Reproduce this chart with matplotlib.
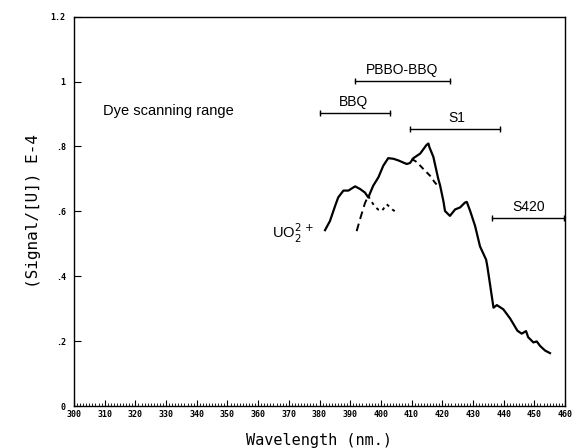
import matplotlib
matplotlib.use("Agg")
import matplotlib.pyplot as plt
from matplotlib.ticker import MultipleLocator, FixedLocator, FixedFormatter

# ---- data ----
main_wl = [381.8, 383.4, 385.1, 386.1, 387.8, 389.4, 391.6, 393.2, 394.8, 395.9,
           397.5, 399.2, 400.8, 402.4, 404.1, 405.7, 408.4, 409.5, 410.6, 412.8,
           414.9, 415.5, 415.8, 417.1, 418.7, 419.3, 420.4, 420.9, 422.5, 424.2,
           425.8, 427.4, 428.0, 429.1, 430.7, 432.3, 434.3, 434.7, 435.6, 436.7,
           437.8, 439.9, 442.1, 444.5, 445.9, 447.3, 448.0, 449.7, 450.8, 451.9,
           453.5, 455.1]
main_sig = [0.542, 0.570, 0.617, 0.643, 0.664, 0.664, 0.677, 0.669, 0.658, 0.643,
            0.679, 0.705, 0.741, 0.764, 0.762, 0.757, 0.746, 0.749, 0.764, 0.778,
            0.805, 0.809, 0.798, 0.768, 0.700, 0.680, 0.630, 0.601, 0.586, 0.606,
            0.612, 0.627, 0.629, 0.601, 0.555, 0.492, 0.451, 0.430, 0.373, 0.303,
            0.311, 0.298, 0.270, 0.232, 0.223, 0.231, 0.212, 0.196, 0.199, 0.185,
            0.171, 0.163]

bbq_rise_wl = [392.1, 393.5, 394.8, 396.0]
bbq_rise_sig = [0.539, 0.585, 0.625, 0.650]

uo2_tail_wl = [395.9, 396.8, 398.1, 399.2, 400.3, 401.9, 402.8, 403.7, 404.6]
uo2_tail_sig = [0.648, 0.632, 0.614, 0.605, 0.601, 0.622, 0.614, 0.606, 0.600]

s1_wl = [410.0, 411.7, 413.8, 416.0, 417.5, 418.7]
s1_sig = [0.762, 0.752, 0.731, 0.710, 0.690, 0.677]

range_names = ["BBQ", "PBBO-BBQ", "S1", "S420"]
range_start = [380.0, 391.6, 409.6, 436.3]
range_end = [403.0, 422.5, 438.8, 459.8]
range_level = [0.902, 1.002, 0.853, 0.580]

x_ticks = list(range(300, 461, 10))
y_ticks = [0, 0.2, 0.4, 0.6, 0.8, 1.0, 1.2]
y_tick_labels = ["0", ".2", ".4", ".6", ".8", "1", "1.2"]

# ---- figure ----
fig = plt.figure(figsize=(5.79, 4.48), dpi=100)
ax = fig.add_axes([74 / 579, 1 - 406 / 448, (565 - 74) / 579, (406 - 16.7) / 448])
ax.set_xlim(300, 460)
ax.set_ylim(0, 1.2)

ax.plot(main_wl, main_sig, color="black", lw=1.6, solid_joinstyle="round")
ax.plot(bbq_rise_wl, bbq_rise_sig, color="black", lw=1.4, dashes=(4, 2.5))
ax.plot(uo2_tail_wl, uo2_tail_sig, color="black", lw=1.4, dashes=(1.6, 2.2))
ax.plot(s1_wl, s1_sig, color="black", lw=1.4, dashes=(3, 2.2))

for name, x0, x1, yv in zip(range_names, range_start, range_end, range_level):
    ax.plot([x0, x1], [yv, yv], color="black", lw=1.0, marker="|",
            markersize=5, markeredgewidth=1.0)

label_font = dict(family=["Liberation Sans", "DejaVu Sans"], fontsize=10)
ax.text(391.0, 0.915, "BBQ", ha="center", va="bottom", **label_font)
ax.text(407.0, 1.015, "PBBO-BBQ", ha="center", va="bottom", **label_font)
ax.text(424.8, 0.866, "S1", ha="center", va="bottom", **label_font)
ax.text(448.0, 0.593, "S420", ha="center", va="bottom", **label_font)
ax.text(309.3, 0.908, "Dye scanning range", ha="left", va="center",
        family=["Liberation Sans", "DejaVu Sans"], fontsize=10.5)
ax.text(364.4, 0.517, r"UO$_2^{2\,+}$", ha="left", va="baseline",
        family=["Liberation Sans", "DejaVu Sans"], fontsize=10.5)

# ticks
ax.xaxis.set_major_locator(FixedLocator(x_ticks))
ax.xaxis.set_minor_locator(MultipleLocator(1))
ax.yaxis.set_major_locator(FixedLocator(y_ticks))
ax.yaxis.set_major_formatter(FixedFormatter(y_tick_labels))
ax.tick_params(axis="x", which="major", direction="in", length=4, width=0.8,
               top=False, pad=3)
ax.tick_params(axis="x", which="minor", direction="in", length=2, width=0.6,
               top=False)
ax.tick_params(axis="y", which="major", direction="in", length=5, width=0.8,
               right=False, pad=6)
ax.tick_params(axis="y", which="minor", left=False, right=False)
for lab in ax.get_xticklabels() + ax.get_yticklabels():
    lab.set_fontfamily("DejaVu Sans Mono")
    lab.set_fontweight("bold")
    lab.set_fontsize(6)

for sp in ax.spines.values():
    sp.set_linewidth(1.0)

ax.set_xlabel("Wavelength (nm.)", family="DejaVu Sans Mono", fontsize=11, labelpad=10)
ax.set_ylabel("(Signal/[U]) E-4", family="DejaVu Sans Mono", fontsize=11.5, labelpad=7)

fig.savefig("out.png", dpi=100)
